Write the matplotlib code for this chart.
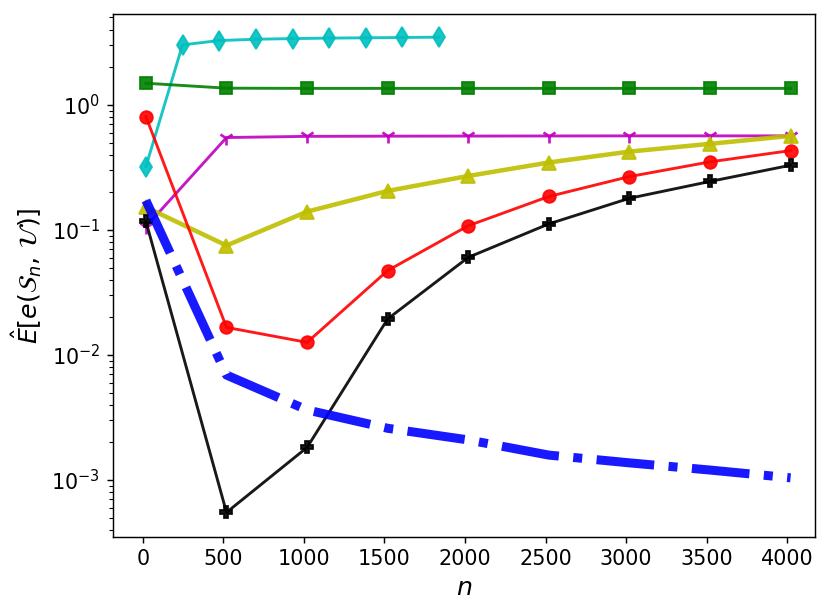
import matplotlib
matplotlib.use("Agg")
import matplotlib.pyplot as plt

n_main = [20, 520, 1020, 1520, 2020, 2520, 3020, 3520, 4020]
n_cyan = [20, 247, 475, 702, 930, 1157, 1385, 1612, 1840]

cyan_vals = [0.321, 3.02, 3.27, 3.35, 3.39, 3.42, 3.44, 3.46, 3.48]
green_vals = [1.49, 1.36, 1.355, 1.355, 1.355, 1.355, 1.355, 1.355, 1.355]
magenta_vals = [0.106, 0.548, 0.56, 0.562, 0.563, 0.564, 0.565, 0.565, 0.565]
yellow_vals = [0.152, 0.075, 0.140, 0.205, 0.270, 0.346, 0.423, 0.488, 0.565]
red_vals = [0.806, 0.0166, 0.0126, 0.0473, 0.108, 0.185, 0.267, 0.350, 0.431]
black_vals = [0.117, 0.00055, 0.00182, 0.0194, 0.0603, 0.1117, 0.179, 0.244, 0.329]
blue_vals = [0.172, 0.0069, 0.00363, 0.00259, 0.00209, 0.00158, 0.00137, 0.0012, 0.00104]

DPI = 130
fig = plt.figure(figsize=(830 / DPI, 614 / DPI), dpi=DPI)
ax = fig.add_axes([0.136, 0.126, 0.846, 0.851])

a = 0.9
ax.plot(n_cyan, cyan_vals, color='c', marker='d', ms=8, lw=1.6, alpha=a)
ax.plot(n_main, green_vals, color='g', marker='s', ms=7, lw=1.6, alpha=a)
ax.plot(n_main, magenta_vals, color='m', marker='1', ms=8, mew=1.5, lw=1.6, alpha=a)
ax.plot(n_main, yellow_vals, color='y', marker='^', ms=8, lw=2.5, alpha=a)
ax.plot(n_main, red_vals, color='r', marker='o', ms=7, lw=1.6, alpha=a)
ax.plot(n_main, black_vals, color='k', marker='P', ms=7, lw=1.6, alpha=a)
ax.plot(n_main, blue_vals, color='b', ls='-.', lw=5, alpha=a)

ax.set_yscale('log')
ax.set_xlim(-185, 4172)
ax.set_ylim(3.52e-4, 5.32)
ax.set_xticks([0, 500, 1000, 1500, 2000, 2500, 3000, 3500, 4000])
ax.tick_params(labelsize=11.5)
ax.set_xlabel(r'$n$', fontsize=14)
ax.set_ylabel(r'$\hat{E}[e(\mathcal{S}_n,\,\mathcal{U})]$', fontsize=14)

fig.savefig('out.png', dpi=DPI)
